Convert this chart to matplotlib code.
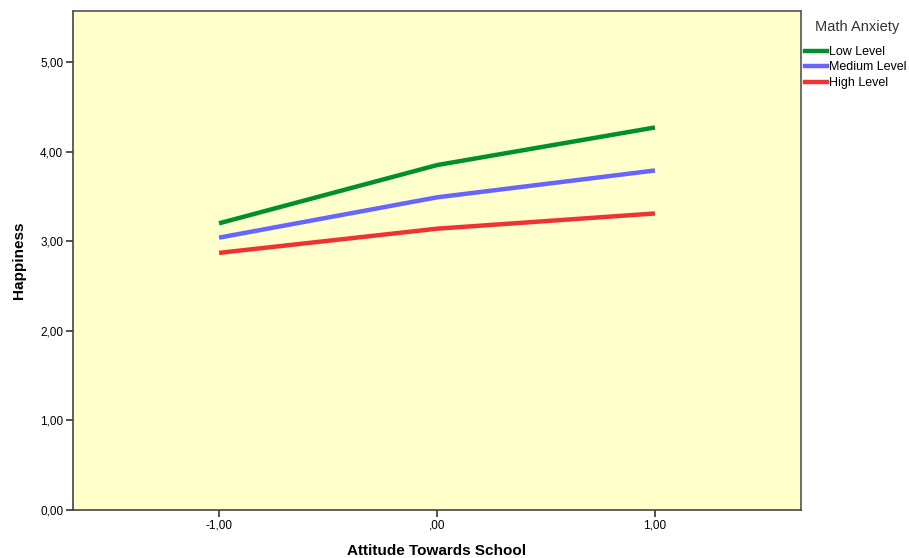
import matplotlib
matplotlib.use("Agg")
import matplotlib.pyplot as plt
from matplotlib.lines import Line2D

plt.rcParams['font.family'] = ['Liberation Sans', 'DejaVu Sans']

x_vals = [-1.0, 0.0, 1.0]
x_labels = ['-1,00', ',00', '1,00']
low = [3.20, 3.85, 4.27]
medium = [3.04, 3.49, 3.79]
high = [2.87, 3.14, 3.31]
series_names = ['Low Level', 'Medium Level', 'High Level']
legend_title = 'Math Anxiety'
y_ticks = [0, 1, 2, 3, 4, 5]
y_labels = ['0,00', '1,00', '2,00', '3,00', '4,00', '5,00']

colors = ['#00902A', '#6666FF', '#EE3333']

W, H = 909, 558
fig = plt.figure(figsize=(W / 100, H / 100), dpi=100)
ax = fig.add_axes([73 / W, (H - 510) / H, (801 - 73) / W, (510 - 11) / H])
ax.set_facecolor('#FFFFCC')

for vals, c, name in zip([low, medium, high], colors, series_names):
    ax.plot(x_vals, vals, color=c, lw=3.2, solid_capstyle='butt', label=name)

ax.set_xlim(-1.67, 1.67)
ax.set_ylim(0, 5.57)
ax.set_xticks(x_vals)
ax.set_xticklabels(x_labels)
ax.set_yticks(y_ticks)
ax.set_yticklabels(y_labels)
ax.tick_params(axis='both', labelsize=8.5, length=5, width=1.2, color='#333333', pad=2)
for s in ax.spines.values():
    s.set_color('#555555')
    s.set_linewidth(1.2)
ax.spines['left'].set_color('#444444')
ax.spines['bottom'].set_color('#444444')

ax.set_xlabel('Attitude Towards School', fontsize=11, fontweight='bold', labelpad=9)
ax.set_ylabel('Happiness', fontsize=11, fontweight='bold', labelpad=10)

fig.text(857 / W, 1 - 27 / H, legend_title, ha='center', va='center',
         fontsize=10.5, color='#333333')
handles = [Line2D([0], [0], color=c, lw=3.2) for c in colors]
leg = fig.legend(handles, series_names, loc='upper left',
                 bbox_to_anchor=(805 / W, 1 - 46 / H), frameon=False,
                 fontsize=9, handlelength=1.75,
                 handletextpad=0.15, labelspacing=0.28, borderaxespad=0,
                 borderpad=0)

fig.savefig('out.png', dpi=100)
